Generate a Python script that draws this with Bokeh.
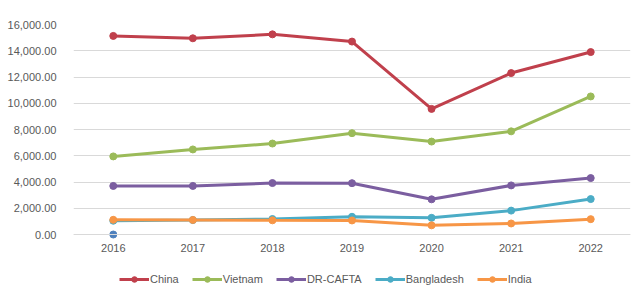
from bokeh.plotting import figure
from bokeh.models import Legend, LegendItem, NumeralTickFormatter, FixedTicker
from bokeh.embed import file_html
from bokeh.resources import INLINE

years = ["2016", "2017", "2018", "2019", "2020", "2021", "2022"]
china = [15130, 14950, 15250, 14700, 9570, 12300, 13900]
vietnam = [5950, 6480, 6930, 7720, 7080, 7860, 10520]
dr_cafta = [3700, 3700, 3920, 3910, 2680, 3740, 4300]
bangladesh = [1050, 1100, 1180, 1350, 1270, 1820, 2700]
india = [1120, 1110, 1080, 1070, 700, 840, 1170]
other_years = ["2016"]
other_vals = [0]
y_ticks = [0, 2000, 4000, 6000, 8000, 10000, 12000, 14000, 16000]

series = [
    ("China", china, "#C0404C"),
    ("Vietnam", vietnam, "#9BBB59"),
    ("DR-CAFTA", dr_cafta, "#7B5EA0"),
    ("Bangladesh", bangladesh, "#4BACC6"),
    ("India", india, "#F79646"),
]

FONT = "Liberation Sans"
GRAY = "#595959"

# frame extends below the zero line so that the axis labels and legend sit inside it
p = figure(x_range=years, y_range=(-4495, 16000), frame_width=557, frame_height=269,
           output_backend="svg", toolbar_location=None,
           min_border_left=73, min_border_right=8, min_border_top=24, min_border_bottom=0)
p.outline_line_color = None
p.border_fill_color = "white"
p.background_fill_color = "white"
p.x_range.range_padding = 0

p.xgrid.grid_line_color = None
p.ygrid.grid_line_color = "#D9D9D9"
p.ygrid.grid_line_width = 1
p.yaxis.ticker = FixedTicker(ticks=y_ticks)
p.ygrid.ticker = FixedTicker(ticks=y_ticks)
p.yaxis.formatter = NumeralTickFormatter(format="0,0.00")
p.yaxis.axis_line_color = None
p.yaxis.major_tick_line_color = None
p.yaxis.minor_tick_line_color = None
p.yaxis.major_label_text_font = FONT
p.yaxis.major_label_text_font_size = "11px"
p.yaxis.major_label_text_color = GRAY
p.yaxis.major_label_standoff = 11

p.xaxis.fixed_location = 0
p.xaxis.axis_line_color = "#D9D9D9"
p.xaxis.major_tick_line_color = None
p.xaxis.minor_tick_line_color = None
p.xaxis.major_tick_out = 0
p.xaxis.major_tick_in = 0
p.xaxis.major_label_text_font = FONT
p.xaxis.major_label_text_font_size = "11px"
p.xaxis.major_label_text_color = GRAY
p.xaxis.major_label_standoff = 9

items = []
for name, vals, color in series:
    r1 = p.line(years, vals, line_color=color, line_width=3)
    r2 = p.scatter(years, vals, size=7, fill_color=color, line_color=color)
    items.append(LegendItem(label=name, renderers=[r1, r2]))

p.scatter(other_years, other_vals, size=7, fill_color="#4F81BD", line_color="#4F81BD")

legend = Legend(items=items, orientation="horizontal", location=(46, 7),
                label_text_font=FONT, label_text_font_size="11px", label_text_color=GRAY,
                glyph_width=30, glyph_height=14, label_standoff=1, spacing=13,
                border_line_color=None, background_fill_alpha=0, padding=2, margin=0)
p.add_layout(legend, "center")

open("out.html", "w").write(file_html(p, INLINE))
